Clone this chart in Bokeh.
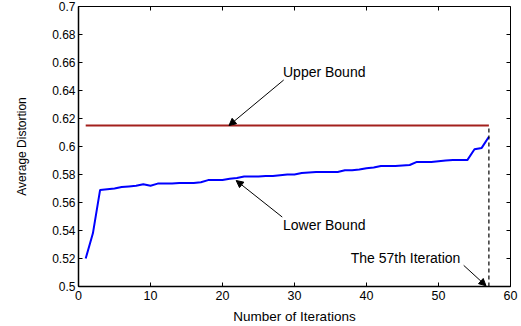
import math
from bokeh.plotting import figure
from bokeh.models import (Arrow, NormalHead, Label, FixedTicker, Range1d)
from bokeh.embed import file_html
from bokeh.resources import INLINE

# ---- data ----
iterations = list(range(1, 58))
lower_bound = [
    0.520, 0.538, 0.569, 0.5695, 0.570, 0.571, 0.5715, 0.572, 0.573, 0.572,
    0.5735, 0.5735, 0.5735, 0.574, 0.574, 0.574, 0.5745, 0.576, 0.576, 0.576,
    0.577, 0.5775, 0.5785, 0.5785, 0.5785, 0.579, 0.579, 0.5795, 0.580, 0.580,
    0.581, 0.5815, 0.5818, 0.5818, 0.5818, 0.5818, 0.583, 0.583, 0.5835, 0.5845,
    0.585, 0.586, 0.586, 0.586, 0.5865, 0.5868, 0.589, 0.589, 0.589, 0.5895,
    0.590, 0.5903, 0.5903, 0.5903, 0.598, 0.599, 0.607,
]
upper_bound = 0.615
marked_iteration = 57

x_ticks = [0, 10, 20, 30, 40, 50, 60]
y_ticks = [0.5, 0.52, 0.54, 0.56, 0.58, 0.6, 0.62, 0.64, 0.66, 0.68, 0.7]
y_tick_labels = ["0.5", "0.52", "0.54", "0.56", "0.58", "0.6", "0.62",
                 "0.64", "0.66", "0.68", "0.7"]
x_min, x_max = 0, 60
y_min, y_max = 0.5, 0.7

FONT = "Liberation Sans"

p = figure(width=521, height=326, output_backend="svg", toolbar_location=None,
           x_range=Range1d(x_min, x_max), y_range=Range1d(y_min, y_max),
           min_border_left=78, min_border_right=11, min_border_top=6,
           min_border_bottom=38)
p.xgrid.visible = False
p.ygrid.visible = False
p.outline_line_color = "black"
p.outline_line_width = 1
p.background_fill_color = "white"
p.border_fill_color = "white"

p.xaxis.ticker = FixedTicker(ticks=x_ticks)
p.yaxis.ticker = FixedTicker(ticks=y_ticks)
p.yaxis.major_label_overrides = {t: l for t, l in zip(y_ticks, y_tick_labels)}
for ax in p.xaxis + p.yaxis:
    ax.major_tick_in = 4
    ax.major_tick_out = 0
    ax.minor_tick_line_color = None
    ax.axis_line_color = "black"
    ax.axis_line_width = 1.5
    ax.major_tick_line_color = "black"
    ax.major_label_text_font = FONT
    ax.major_label_text_color = "black"
    ax.axis_label_text_font = FONT
    ax.axis_label_text_font_style = "normal"
    ax.axis_label_text_color = "black"
p.xaxis.major_label_text_font_size = "12.5px"
p.yaxis.major_label_text_font_size = "12px"
p.xaxis.major_label_standoff = 4
p.yaxis.major_label_standoff = 3
p.xaxis.axis_label = "Number of Iterations"
p.yaxis.axis_label = "Average Distortion"
p.xaxis.axis_label_text_font_size = "13.5px"
p.yaxis.axis_label_text_font_size = "12px"
p.xaxis.axis_label_standoff = 6
p.yaxis.axis_label_standoff = 20

# inward tick marks on top and right edges (clipped to frame)
p.scatter(x=x_ticks, y=[y_max] * len(x_ticks), marker="dash", size=8,
          angle=math.pi / 2, line_color="black", line_width=1)
p.scatter(x=[x_max] * len(y_ticks), y=y_ticks, marker="dash", size=8,
          line_color="black", line_width=1)

# upper bound line
p.line(x=[iterations[0], iterations[-1]], y=[upper_bound, upper_bound],
       line_color="#a3201d", line_width=1.8)
# lower bound curve
p.line(x=iterations, y=lower_bound, line_color="#0000ff", line_width=2)
# dashed marker
p.segment(x0=[marked_iteration], y0=[y_min], x1=[marked_iteration],
          y1=[upper_bound], line_color="black", line_width=1.2,
          line_dash="4 3")

def arrow(x0, y0, x1, y1):
    p.add_layout(Arrow(end=NormalHead(size=7, fill_color="black",
                                      line_color="black", line_width=1),
                       x_start=x0, y_start=y0, x_end=x1, y_end=y1,
                       line_color="black", line_width=1))

def label(x, y, t):
    p.add_layout(Label(x=x, y=y, text=t, text_font=FONT,
                       text_font_size="14px", text_baseline="middle",
                       text_color="black"))

label(28.4, 0.6535, "Upper Bound")
arrow(28.5, 0.6475, 20.9, 0.615)
label(28.4, 0.544, "Lower Bound")
arrow(28.3, 0.5496, 21.9, 0.5757)
label(37.8, 0.5206, "The 57th Iteration")
arrow(53.5, 0.5151, 56.6, 0.5005)

open("out.html", "w").write(file_html(p, INLINE))
